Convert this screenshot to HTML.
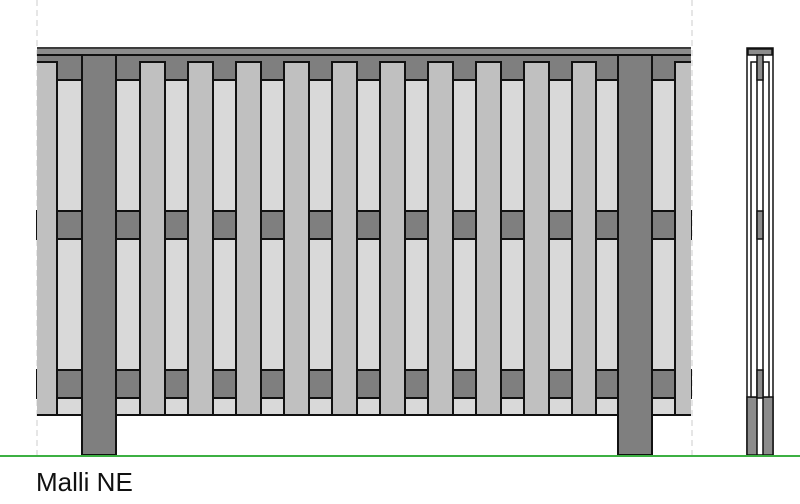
<!DOCTYPE html>
<html><head><meta charset="utf-8"><style>html,body{margin:0;padding:0;background:#fff;width:800px;height:504px;overflow:hidden}</style></head>
<body>
<svg width="800" height="504" viewBox="0 0 800 504" xmlns="http://www.w3.org/2000/svg" style="display:block">
<line x1="37" y1="0" x2="37" y2="455" stroke="#ccc" stroke-width="1" stroke-dasharray="6,4"/>
<line x1="692" y1="0" x2="692" y2="455" stroke="#ccc" stroke-width="1" stroke-dasharray="6,4"/>
<rect x="37" y="80" width="654" height="335" fill="#d9d9d9"/>
<rect x="37" y="55" width="654" height="25" fill="#7f7f7f"/>
<line x1="37" y1="80" x2="691" y2="80" stroke="#111" stroke-width="2"/>
<rect x="37" y="211" width="654" height="28" fill="#7f7f7f" stroke="#111" stroke-width="2"/>
<rect x="37" y="370" width="654" height="28" fill="#7f7f7f" stroke="#111" stroke-width="2"/>
<line x1="37" y1="415" x2="691" y2="415" stroke="#111" stroke-width="2"/>
<g fill="#c0c0c0" stroke="#111" stroke-width="2">
<path d="M37 62 H57 V415 H37" />
<rect x="140" y="62" width="25" height="353"/>
<rect x="188" y="62" width="25" height="353"/>
<rect x="236" y="62" width="25" height="353"/>
<rect x="284" y="62" width="25" height="353"/>
<rect x="332" y="62" width="25" height="353"/>
<rect x="380" y="62" width="25" height="353"/>
<rect x="428" y="62" width="25" height="353"/>
<rect x="476" y="62" width="25" height="353"/>
<rect x="524" y="62" width="25" height="353"/>
<rect x="572" y="62" width="24" height="353"/>
<path d="M691 62 H675 V415 H691" />
</g>
<rect x="37" y="63" width="19" height="351" fill="#c0c0c0"/>
<rect x="676" y="63" width="15" height="351" fill="#c0c0c0"/>
<rect x="82" y="55" width="34" height="400" fill="#7f7f7f" stroke="#111" stroke-width="2"/>
<rect x="618" y="55" width="34" height="400" fill="#7f7f7f" stroke="#111" stroke-width="2"/>
<rect x="37" y="47" width="654" height="8" fill="#8c8c8c"/>
<line x1="37" y1="48" x2="691" y2="48" stroke="#222" stroke-width="1.5"/>
<line x1="37" y1="55" x2="691" y2="55" stroke="#111" stroke-width="2"/>
<g stroke="#111" stroke-width="1.5">
<rect x="747" y="48" width="26" height="407" fill="#fff"/>
<rect x="748" y="49" width="24" height="6" fill="#8c8c8c"/>
<rect x="747" y="397" width="10" height="58" fill="#8c8c8c"/>
<rect x="763" y="397" width="10" height="58" fill="#8c8c8c"/>
<rect x="751" y="62" width="6" height="335" fill="#fff"/>
<rect x="763" y="62" width="6" height="335" fill="#fff"/>
<rect x="757" y="55" width="6" height="25" fill="#8c8c8c"/>
<rect x="757" y="211" width="6" height="28" fill="#8c8c8c"/>
<rect x="757" y="370" width="6" height="28" fill="#8c8c8c"/>
</g>
<line x1="0" y1="456" x2="800" y2="456" stroke="#3cb043" stroke-width="2"/>
<text x="36" y="491" font-family="Liberation Sans, Arial, sans-serif" font-size="26" fill="#111">Malli NE</text>
</svg>
</body></html>
